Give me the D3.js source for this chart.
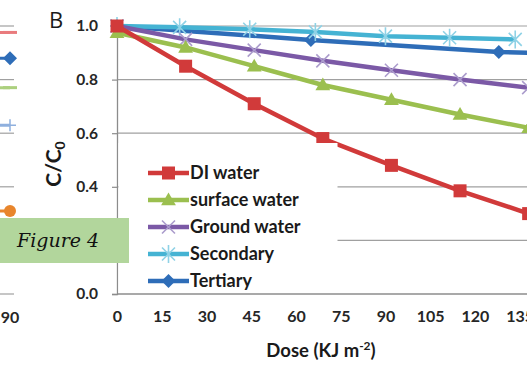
<!DOCTYPE html>
<html>
<head>
<meta charset="utf-8">
<script src="https://cdn.jsdelivr.net/npm/d3@7"></script>
<style>
  body { margin: 0; background: #fff; }
  svg { display: block; overflow: hidden; }
</style>
</head>
<body>
<div id="chart"></div>
<script>
// panel B data
var doseMain = [0, 23, 46, 69, 92, 115, 138];
var diWater = [1.0, 0.85, 0.71, 0.58, 0.48, 0.385, 0.30];
var surfaceWater = [0.975, 0.92, 0.85, 0.78, 0.725, 0.67, 0.62];
var groundWater = [1.0, 0.95, 0.91, 0.87, 0.835, 0.80, 0.77];
var doseSecondary = [0, 21, 44.5, 66.5, 90, 111.5, 133.5];
var secondary = [1.0, 0.995, 0.988, 0.978, 0.962, 0.956, 0.95];
var doseTertiary = [0, 65, 128, 191];
var tertiary = [1.0, 0.948, 0.903, 0.885];

var xTicks = [0, 15, 30, 45, 60, 75, 90, 105, 120, 135];
var yTicks = [0, 0.2, 0.4, 0.6, 0.8, 1.0];
var legendNames = ["DI water", "surface water", "Ground water", "Secondary", "Tertiary"];

// the edge of panel A that is cut off on the left
var doseA = [75, 90];
var aRed = [0.976, 0.976];
var aBlue = [0.88, 0.88];
var aGreen = [0.77, 0.77];
var aLightBlue = [0.63, 0.63];
var aOrange = [0.31, 0.31];

var W = 527, H = 365;
var svg = d3.select("#chart").append("svg")
    .attr("width", W).attr("height", H);

var x = d3.scaleLinear().domain([0, 135]).range([117, 519.7]);
var y = d3.scaleLinear().domain([0, 1]).range([294, 26]);
var xA = d3.scaleLinear().domain([75, 90]).range([-35, 10]);

var font = "Lato, 'Open Sans', sans-serif";

// gridlines
svg.append("g").selectAll("line").data(yTicks.filter(function(d) { return d > 0; }))
    .enter().append("line")
    .attr("x1", 117).attr("x2", W)
    .attr("y1", function(d) { return y(d); }).attr("y2", function(d) { return y(d); })
    .attr("stroke", "#a0a0a0").attr("stroke-width", 1.2);

// panel A leftovers: gridline ends
svg.append("g").selectAll("line").data(yTicks)
    .enter().append("line")
    .attr("x1", 0).attr("x2", 14)
    .attr("y1", function(d) { return y(d); }).attr("y2", function(d) { return y(d); })
    .attr("stroke", "#a0a0a0").attr("stroke-width", 1.2);

// y axis (the 0.2 label sits under the "Figure 4" tag)
var yAxis = svg.append("g")
    .attr("transform", "translate(117,0)")
    .call(d3.axisLeft(y).tickValues(yTicks).tickSize(5).tickPadding(14)
        .tickFormat(function(d) { return d === 0.2 ? "" : d3.format(".1f")(d); }));
yAxis.select(".domain").attr("stroke", "#8c8c8c").attr("stroke-width", 1.3);
yAxis.selectAll(".tick line").attr("stroke", "#8c8c8c").attr("stroke-width", 1.2);
yAxis.selectAll("text").attr("font-family", font).attr("font-weight", "bold")
    .attr("font-size", 15.5).attr("fill", "#262626");

// x axis
var xAxis = svg.append("g")
    .attr("transform", "translate(0,294)")
    .call(d3.axisBottom(x).tickValues(xTicks).tickSize(0).tickPadding(17));
xAxis.select(".domain").attr("stroke", "#8c8c8c").attr("stroke-width", 1.3)
    .attr("d", "M117,0H" + W);
xAxis.selectAll("text").attr("font-family", font).attr("font-weight", "bold")
    .attr("font-size", 16).attr("fill", "#262626");

// "90" of panel A
svg.append("text").attr("x", xA(90)).attr("y", 323)
    .attr("text-anchor", "middle").attr("font-family", font).attr("font-weight", "bold")
    .attr("font-size", 16).attr("fill", "#262626").text("90");

// marker shapes
function drawMarker(g, type, color, cx, cy) {
  if (type === "square") {
    g.append("rect").attr("x", cx - 6.5).attr("y", cy - 6.5).attr("width", 13).attr("height", 13)
        .attr("fill", color);
  } else if (type === "triangle") {
    g.append("path").attr("d", d3.symbol().type(d3.symbolTriangle).size(95)())
        .attr("transform", "translate(" + cx + "," + (cy + 1) + ")").attr("fill", color);
  } else if (type === "cross") {
    g.append("path").attr("d", "M-6.5,-6.5L6.5,6.5M-6.5,6.5L6.5,-6.5")
        .attr("transform", "translate(" + cx + "," + cy + ")")
        .attr("stroke", color).attr("stroke-width", 1.6).attr("fill", "none");
  } else if (type === "star") {
    g.append("path").attr("d", "M-6.5,-6.5L6.5,6.5M-6.5,6.5L6.5,-6.5M0,-9V9")
        .attr("transform", "translate(" + cx + "," + cy + ")")
        .attr("stroke", color).attr("stroke-width", 1.6).attr("fill", "none");
  } else if (type === "diamond") {
    g.append("path").attr("d", "M0,-7L7,0L0,7L-7,0Z")
        .attr("transform", "translate(" + cx + "," + cy + ")").attr("fill", color);
  } else if (type === "circle") {
    g.append("circle").attr("cx", cx).attr("cy", cy).attr("r", 6).attr("fill", color);
  } else if (type === "dash") {
    g.append("path").attr("d", "M-7,0H7")
        .attr("transform", "translate(" + cx + "," + cy + ")")
        .attr("stroke", color).attr("stroke-width", 3);
  } else if (type === "plus") {
    g.append("path").attr("d", "M-6,0H6M0,-6V6")
        .attr("transform", "translate(" + cx + "," + cy + ")")
        .attr("stroke", color).attr("stroke-width", 1.5);
  }
}

var series = [
  {name: "Tertiary", dose: doseTertiary, vals: tertiary, color: "#2e6db8", mcolor: "#2e6db8", marker: "diamond"},
  {name: "Secondary", dose: doseSecondary, vals: secondary, color: "#45b3d3", mcolor: "#8fd2e6", marker: "star"},
  {name: "Ground water", dose: doseMain, vals: groundWater, color: "#7b59a6", mcolor: "#ab9ccc", marker: "cross"},
  {name: "surface water", dose: doseMain, vals: surfaceWater, color: "#9bbf4f", mcolor: "#9bbf4f", marker: "triangle"},
  {name: "DI water", dose: doseMain, vals: diWater, color: "#d13a3a", mcolor: "#d13a3a", marker: "square"}
];

var line = d3.line()
    .x(function(d) { return x(d[0]); })
    .y(function(d) { return y(d[1]); });

series.forEach(function(s) {
  var pts = s.dose.map(function(d, i) { return [d, s.vals[i]]; });
  var g = svg.append("g");
  g.append("path").datum(pts).attr("d", line)
      .attr("fill", "none").attr("stroke", s.color).attr("stroke-width", 4.5)
      .attr("stroke-linejoin", "round");
  pts.forEach(function(p) { drawMarker(g, s.marker, s.mcolor, x(p[0]), y(p[1])); });
});

// panel A series ends
var seriesA = [
  {vals: aRed, color: "#e97b7d", marker: "dash"},
  {vals: aBlue, color: "#2e6db8", marker: "diamond"},
  {vals: aGreen, color: "#acd07e", marker: "dash"},
  {vals: aLightBlue, color: "#8fb0de", marker: "plus"},
  {vals: aOrange, color: "#e8852c", marker: "circle"}
];
var lineA = d3.line()
    .x(function(d) { return xA(d[0]); })
    .y(function(d) { return y(d[1]); });
seriesA.forEach(function(s) {
  var pts = doseA.map(function(d, i) { return [d, s.vals[i]]; });
  var g = svg.append("g");
  g.append("path").datum(pts).attr("d", lineA)
      .attr("fill", "none").attr("stroke", s.color).attr("stroke-width", 3);
  drawMarker(g, s.marker, s.color, xA(90), y(s.vals[1]));
});

// legend
var leg = svg.append("g");
leg.append("rect").attr("x", 118.5).attr("y", 143).attr("width", 219).attr("height", 150)
    .attr("fill", "#fff");
legendNames.forEach(function(n, i) {
  var s = series.filter(function(d) { return d.name === n; })[0];
  var ly = 173 + i * 27;
  leg.append("line").attr("x1", 148).attr("x2", 189).attr("y1", ly).attr("y2", ly)
      .attr("stroke", s.color).attr("stroke-width", 4.5);
  drawMarker(leg, s.marker, s.mcolor, 168.5, ly);
  leg.append("text").attr("x", 190).attr("y", ly).attr("dy", "0.35em")
      .attr("font-family", font).attr("font-weight", "bold").attr("font-size", 18)
      .attr("fill", "#1a1a1a").text(n);
});

// titles
svg.append("text").attr("x", 321).attr("y", 357).attr("text-anchor", "middle")
    .attr("font-family", font).attr("font-weight", "bold").attr("font-size", 18.5)
    .attr("fill", "#1a1a1a")
    .html("Dose (KJ m<tspan dy='-7' font-size='12'>-2</tspan><tspan dy='7'>)</tspan>");

var yt = svg.append("text")
    .attr("transform", "translate(61,164) rotate(-90)")
    .attr("text-anchor", "middle")
    .attr("font-family", font).attr("font-weight", "bold").attr("font-size", 21)
    .attr("fill", "#1a1a1a");
yt.append("tspan").text("C/C");
yt.append("tspan").attr("dy", 4).attr("font-size", 14).text("0");

svg.append("text").attr("x", 49).attr("y", 28)
    .attr("font-family", "'Open Sans', sans-serif").attr("font-size", 22)
    .attr("fill", "#1a1a1a").text("B");

// "Figure 4" tag
svg.append("rect").attr("x", 0).attr("y", 218).attr("width", 129).attr("height", 45)
    .attr("fill", "#b2d69c");
svg.append("text").attr("x", 17).attr("y", 240).attr("dy", "0.35em")
    .attr("font-family", "'DejaVu Serif', serif").attr("font-style", "italic")
    .attr("font-size", 19).attr("fill", "#111").text("Figure 4");
</script>
</body>
</html>
